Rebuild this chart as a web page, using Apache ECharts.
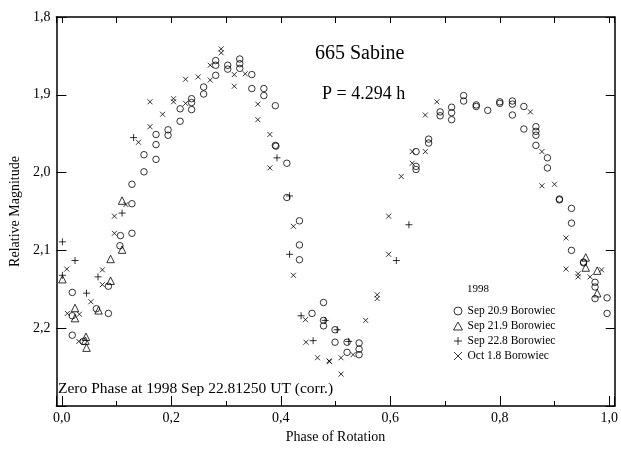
<!DOCTYPE html>
<html>
<head>
<meta charset="utf-8">
<script src="https://cdn.jsdelivr.net/npm/echarts@6/dist/echarts.min.js"></script>
<style>html,body{margin:0;padding:0;background:#fff}#c{width:621px;height:449px}</style>
</head>
<body>
<div id="c"></div>
<script>
// Sep 20.9 Borowiec (open circles): [phase, relative magnitude]
const sep209 = [[0.019,2.154],[0.019,2.184],[0.019,2.209],[0.039,2.217],[0.063,2.175],[0.085,2.146],[0.085,2.181],[0.107,2.081],[0.106,2.094],[0.128,2.078],[0.128,2.040],[0.128,2.015],[0.150,1.999],[0.150,1.977],[0.172,1.983],[0.172,1.964],[0.172,1.951],[0.194,1.952],[0.194,1.945],[0.216,1.934],[0.216,1.918],[0.237,1.905],[0.237,1.910],[0.237,1.919],[0.259,1.890],[0.259,1.899],[0.281,1.856],[0.281,1.862],[0.281,1.875],[0.303,1.862],[0.303,1.867],[0.325,1.854],[0.325,1.860],[0.325,1.866],[0.347,1.874],[0.347,1.892],[0.369,1.892],[0.369,1.901],[0.390,1.914],[0.390,1.965],[0.391,1.966],[0.411,1.988],[0.411,2.032],[0.434,2.062],[0.434,2.093],[0.434,2.112],[0.457,2.181],[0.478,2.167],[0.478,2.190],[0.478,2.197],[0.499,2.202],[0.499,2.218],[0.521,2.218],[0.521,2.231],[0.543,2.219],[0.543,2.227],[0.543,2.234],[0.647,1.973],[0.647,1.992],[0.647,1.996],[0.670,1.957],[0.670,1.962],[0.691,1.922],[0.691,1.927],[0.712,1.916],[0.712,1.923],[0.712,1.932],[0.734,1.901],[0.734,1.908],[0.757,1.913],[0.757,1.915],[0.778,1.920],[0.800,1.909],[0.800,1.911],[0.823,1.908],[0.823,1.912],[0.823,1.926],[0.844,1.915],[0.844,1.944],[0.866,1.941],[0.866,1.947],[0.866,1.952],[0.866,1.965],[0.887,1.981],[0.887,1.994],[0.909,2.034],[0.909,2.035],[0.931,2.046],[0.931,2.065],[0.931,2.100],[0.953,2.115],[0.953,2.116],[0.974,2.141],[0.974,2.147],[0.974,2.162],[0.996,2.161],[0.996,2.181]];
// Sep 21.9 Borowiec (open triangles)
const sep219 = [[0.001,2.137],[0.024,2.174],[0.024,2.187],[0.044,2.211],[0.043,2.216],[0.045,2.225],[0.067,2.177],[0.089,2.139],[0.089,2.111],[0.110,2.099],[0.110,2.036],[0.957,2.109],[0.957,2.122],[0.978,2.126],[0.978,2.155]];
// Sep 22.8 Borowiec (plus)
const sep228 = [[0.001,2.089],[0.001,2.132],[0.024,2.113],[0.045,2.155],[0.066,2.134],[0.110,2.052],[0.131,1.955],[0.393,1.981],[0.416,2.030],[0.416,2.105],[0.437,2.184],[0.459,2.216],[0.481,2.190],[0.503,2.202],[0.524,2.217],[0.611,2.113],[0.634,2.067]];
// Oct 1.8 Borowiec (crosses)
const oct18 = [[0.009,2.124],[0.010,2.181],[0.032,2.182],[0.031,2.217],[0.053,2.166],[0.074,2.125],[0.074,2.144],[0.096,2.056],[0.096,2.078],[0.117,2.041],[0.140,1.961],[0.161,1.909],[0.161,1.941],[0.184,1.925],[0.204,1.905],[0.204,1.909],[0.226,1.911],[0.226,1.880],[0.249,1.877],[0.271,1.881],[0.271,1.862],[0.291,1.841],[0.291,1.846],[0.315,1.874],[0.315,1.889],[0.335,1.873],[0.358,1.912],[0.358,1.932],[0.380,1.951],[0.380,1.994],[0.423,2.069],[0.423,2.132],[0.445,2.189],[0.446,2.218],[0.467,2.238],[0.488,2.242],[0.489,2.243],[0.510,2.238],[0.510,2.259],[0.532,2.234],[0.555,2.190],[0.576,2.157],[0.576,2.162],[0.597,2.105],[0.597,2.056],[0.620,2.005],[0.640,1.973],[0.640,1.988],[0.664,1.973],[0.664,1.926],[0.685,1.909],[0.856,1.922],[0.877,1.973],[0.877,2.017],[0.900,2.015],[0.921,2.084],[0.921,2.124],[0.943,2.130],[0.943,2.134],[0.965,2.134],[0.986,2.125]];

const seriesNames = ['Sep 20.9 Borowiec','Sep 21.9 Borowiec','Sep 22.8 Borowiec','Oct 1.8 Borowiec'];
const xTicks = [0, 0.2, 0.4, 0.6, 0.8, 1.0];
const yTicks = [1.8, 1.9, 2.0, 2.1, 2.2];

const FONT = '"Liberation Serif","DejaVu Serif",serif';
const fmt = v => v.toFixed(1).replace('.', ',');
const chart = echarts.init(document.getElementById('c'));

const markerStyle = {color: 'rgba(0,0,0,0)', borderColor: '#000', borderWidth: 1};
function mk(name, data, symbol, size) {
  return {
    name, type: 'scatter', data, symbol, symbolSize: size,
    itemStyle: markerStyle, xAxisIndex: 0, yAxisIndex: 0,
    emphasis: {disabled: true}, silent: true, animation: false
  };
}
const axisLineStyle = {color: '#000', width: 1.5};

chart.setOption({
  animation: false,
  grid: {left: 55, top: 17, right: 5, bottom: 39},
  xAxis: [{
    type: 'value', min: -0.01, max: 1.01, splitNumber: 5, position: 'bottom',
    name: 'Phase of Rotation', nameLocation: 'middle', nameGap: 24,
    nameTextStyle: {fontFamily: FONT, fontSize: 14, color: '#000'},
    axisLine: {show: true, onZero: false, lineStyle: axisLineStyle},
    axisTick: {show: true, inside: true, length: 10, lineStyle: {color: '#000'}},
    minorTick: {show: true, splitNumber: 2, length: 5, lineStyle: {color: '#000'}},
    axisLabel: {fontFamily: FONT, fontSize: 14, color: '#000', margin: 5, showMinLabel: false, showMaxLabel: false,
      formatter: v => xTicks.some(t => Math.abs(t - v) < 1e-6) ? fmt(v) : ''},
    splitLine: {show: false}
  }, {
    type: 'value', min: -0.01, max: 1.01, splitNumber: 5, position: 'top',
    axisLine: {show: true, onZero: false, lineStyle: axisLineStyle},
    axisTick: {show: true, inside: true, length: 6, lineStyle: {color: '#000'}},
    minorTick: {show: true, splitNumber: 2, length: 6, lineStyle: {color: '#000'}},
    axisLabel: {show: false}, splitLine: {show: false}
  }],
  yAxis: [{
    type: 'value', min: 1.8, max: 2.3, interval: 0.1, inverse: true, position: 'left',
    name: 'Relative Magnitude', nameLocation: 'middle', nameGap: 33,
    nameTextStyle: {fontFamily: FONT, fontSize: 14, color: '#000'},
    axisLine: {show: true, onZero: false, lineStyle: axisLineStyle},
    axisTick: {show: true, inside: true, length: 10, lineStyle: {color: '#000'}},
    axisLabel: {fontFamily: FONT, fontSize: 14, color: '#000', margin: 6,
      formatter: v => yTicks.some(t => Math.abs(t - v) < 1e-6) ? fmt(v) : ''},
    splitLine: {show: false}
  }, {
    type: 'value', min: 1.8, max: 2.3, interval: 0.1, inverse: true, position: 'right',
    axisLine: {show: true, onZero: false, lineStyle: axisLineStyle},
    axisTick: {show: true, inside: true, length: 9, lineStyle: {color: '#000'}},
    axisLabel: {show: false}, splitLine: {show: false}
  }],
  legend: {
    left: 448, top: 300, orient: 'vertical', itemWidth: 9, itemHeight: 8, itemGap: 3,
    textStyle: {fontFamily: FONT, fontSize: 11.5, color: '#000'},
    itemStyle: {borderWidth: 1},
    data: seriesNames
  },
  graphic: [
    {type: 'text', left: 315, top: 44, style: {text: '665 Sabine', font: '20px ' + FONT, fill: '#000'}},
    {type: 'text', left: 322, top: 85, style: {text: 'P = 4.294 h', font: '18px ' + FONT, fill: '#000'}},
    {type: 'text', left: 467, top: 284, style: {text: '1998', font: '11px ' + FONT, fill: '#000'}},
    {type: 'text', left: 58, top: 381, style: {text: 'Zero Phase at 1998 Sep 22.81250 UT (corr.)', font: '15.5px ' + FONT, fill: '#000'}}
  ],
  series: [
    mk(seriesNames[0], sep209, 'circle', 6.5),
    mk(seriesNames[1], sep219, 'triangle', 7.5),
    mk(seriesNames[2], sep228, 'path://M0,5L10,5M5,0L5,10', 7),
    mk(seriesNames[3], oct18, 'path://M0,0L10,10M0,10L10,0', 5)
  ]
});
</script>
</body>
</html>
